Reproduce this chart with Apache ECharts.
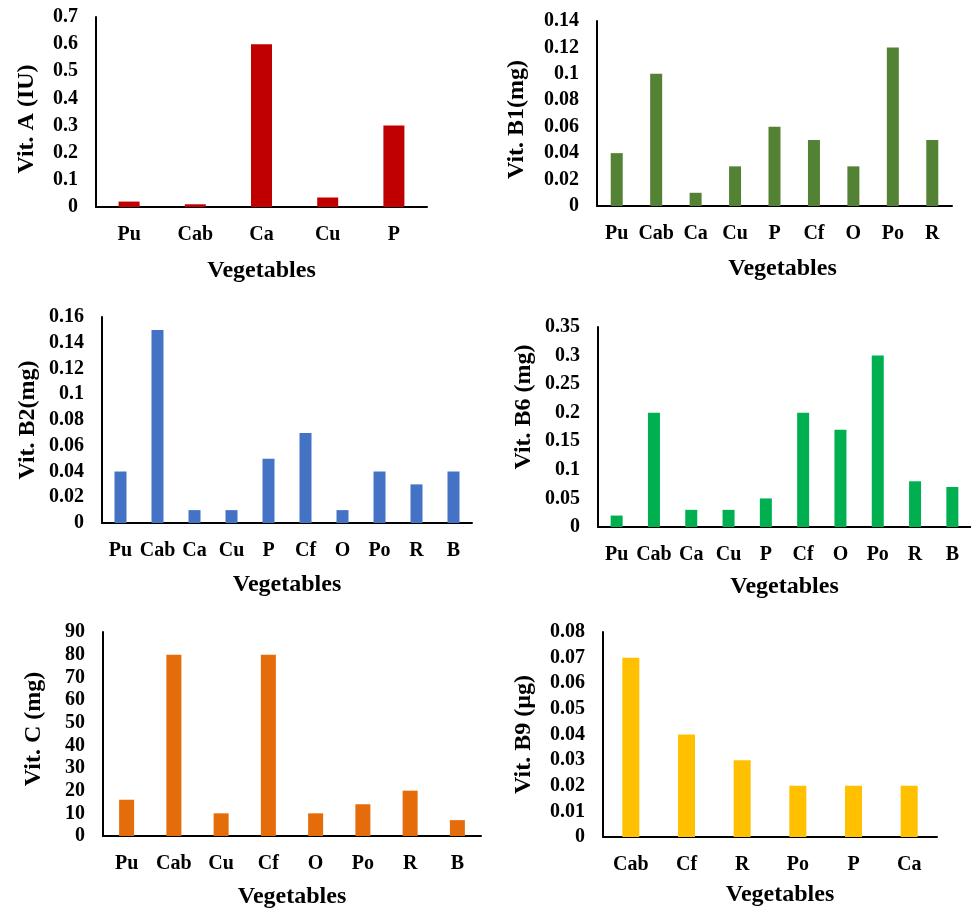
<!DOCTYPE html>
<html>
<head>
<meta charset="utf-8">
<script src="https://cdn.jsdelivr.net/npm/echarts@6/dist/echarts.min.js"></script>
<style>html,body{margin:0;padding:0;background:#fff}#c{width:971px;height:910px}</style>
</head>
<body>
<div id="c"></div>
<script>
// ---- data ----
const catA  = ['Pu','Cab','Ca','Cu','P'];
const valA  = [0.02,0.01,0.6,0.035,0.3];
const catB1 = ['Pu','Cab','Ca','Cu','P','Cf','O','Po','R'];
const valB1 = [0.04,0.1,0.01,0.03,0.06,0.05,0.03,0.12,0.05];
const catB2 = ['Pu','Cab','Ca','Cu','P','Cf','O','Po','R','B'];
const valB2 = [0.04,0.15,0.01,0.01,0.05,0.07,0.01,0.04,0.03,0.04];
const catB6 = ['Pu','Cab','Ca','Cu','P','Cf','O','Po','R','B'];
const valB6 = [0.02,0.2,0.03,0.03,0.05,0.2,0.17,0.3,0.08,0.07];
const catC  = ['Pu','Cab','Cu','Cf','O','Po','R','B'];
const valC  = [16,80,10,80,10,14,20,7];
const catB9 = ['Cab','Cf','R','Po','P','Ca'];
const valB9 = [0.07,0.04,0.03,0.02,0.02,0.02];
const xTitle = 'Vegetables';
const yTitles = ['Vit. A (IU)','Vit. B1(mg)','Vit. B2(mg)','Vit. B6 (mg)','Vit. C (mg)','Vit. B9 (µg)'];

// ---- layout / style ----
const FONT = '"Liberation Serif","Times New Roman",serif';
const panels = [
  {cat:catA, val:valA, max:0.7, interval:0.1, color:'#C00000', bw:21,
   grid:{left:96,top:17,width:331,height:190}, yGap:57, xGap:52, yPad:[0,14,0,0], xPad:[0,0,0,0]},
  {cat:catB1, val:valB1, max:0.14, interval:0.02, color:'#548235', bw:12,
   grid:{left:597,top:21,width:355,height:185}, yGap:68, xGap:51, yPad:[0,12,0,0], xPad:[0,0,0,16]},
  {cat:catB2, val:valB2, max:0.16, interval:0.02, color:'#4472C4', bw:12,
   grid:{left:102,top:317,width:370,height:206}, yGap:62, xGap:50, yPad:[0,0,0,0], xPad:[0,0,0,0]},
  {cat:catB6, val:valB6, max:0.35, interval:0.05, color:'#00B050', bw:12,
   grid:{left:598,top:327,width:373,height:200}, yGap:62, xGap:48, yPad:[0,0,0,40], xPad:[0,0,0,0]},
  {cat:catC, val:valC, max:90, interval:10, color:'#E46C0A', bw:15,
   grid:{left:103,top:632,width:378,height:209}, yGap:57, xGap:49, yPad:[0,0,0,10], xPad:[0,0,0,0]},
  {cat:catB9, val:valB9, max:0.08, interval:0.01, color:'#FFC000', bw:17,
   grid:{left:603,top:632,width:334,height:205}, yGap:67, xGap:46, yPad:[0,0,0,0], xPad:[0,0,0,20]}
];

const option = {animation:false, backgroundColor:'#fff', grid:[], xAxis:[], yAxis:[], series:[]};
panels.forEach((p,i)=>{
  option.grid.push(Object.assign({containLabel:false}, p.grid));
  option.xAxis.push({
    type:'category', gridIndex:i, data:p.cat,
    axisLine:{show:true, lineStyle:{color:'#000', width:2}},
    axisTick:{show:false},
    axisLabel:{color:'#000', fontFamily:FONT, fontWeight:'bold', fontSize:20, margin:18, interval:0},
    name:xTitle, nameLocation:'middle', nameGap:p.xGap,
    nameTextStyle:{color:'#000', fontFamily:FONT, fontWeight:'bold', fontSize:24, padding:p.xPad}
  });
  option.yAxis.push({
    type:'value', gridIndex:i, min:0, max:p.max, interval:p.interval,
    axisLine:{show:true, lineStyle:{color:'#000', width:2}},
    axisTick:{show:false}, splitLine:{show:false},
    axisLabel:{color:'#000', fontFamily:FONT, fontWeight:'bold', fontSize:20, margin:18},
    name:yTitles[i], nameLocation:'middle', nameGap:p.yGap, nameRotate:90,
    nameTextStyle:{color:'#000', fontFamily:FONT, fontWeight:'bold', fontSize:24, padding:p.yPad}
  });
  option.series.push({
    type:'bar', xAxisIndex:i, yAxisIndex:i, data:p.val, barWidth:p.bw,
    itemStyle:{color:p.color}
  });
});
echarts.init(document.getElementById('c')).setOption(option);
</script>
</body>
</html>
